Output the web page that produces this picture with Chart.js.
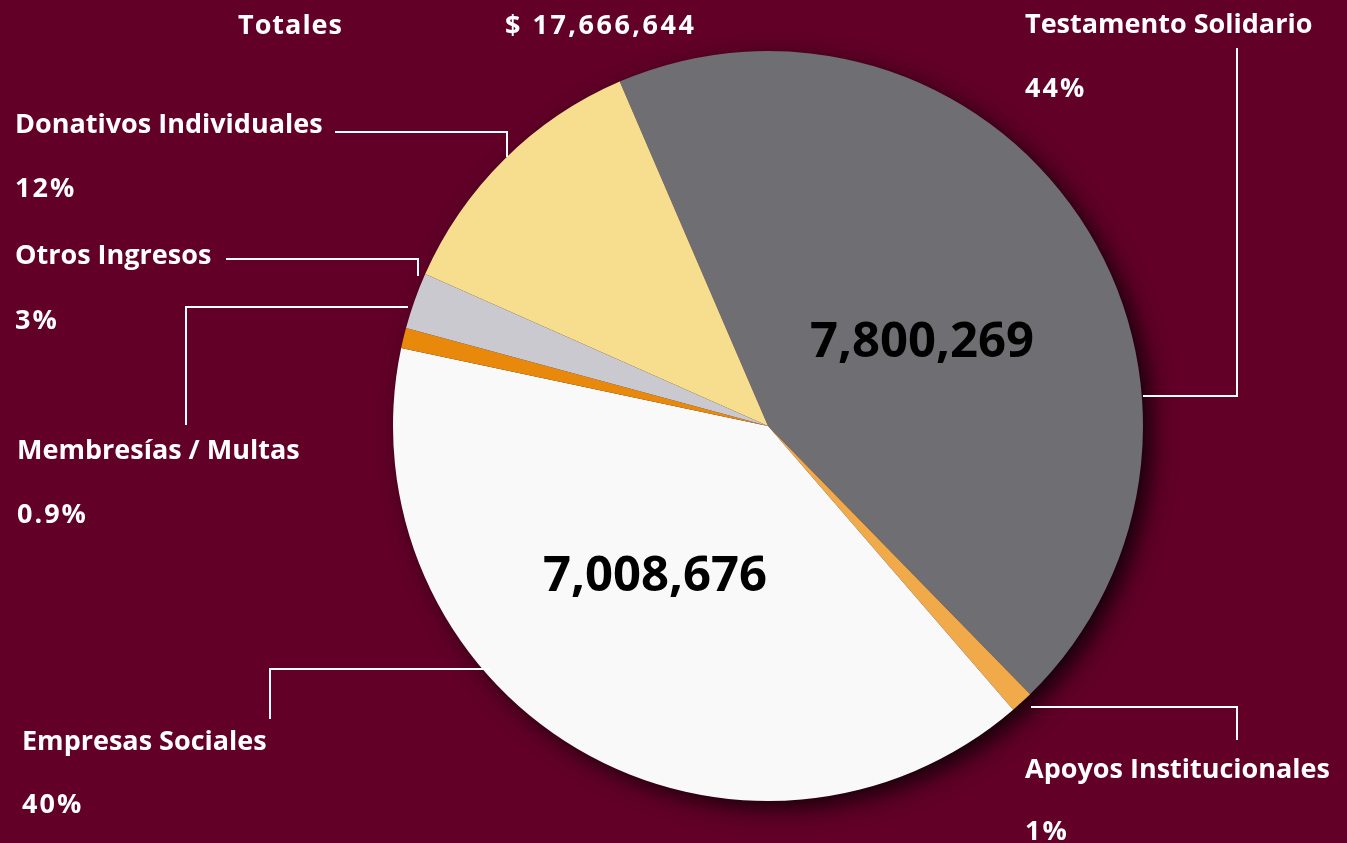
<!DOCTYPE html>
<html>
<head>
<meta charset="utf-8">
<script src="https://cdn.jsdelivr.net/npm/chart.js@4/dist/chart.umd.min.js"></script>
<style>
  html, body { margin: 0; padding: 0; background: #620028; overflow: hidden; }
  #wrap { width: 1347px; height: 843px; position: relative; }
</style>
</head>
<body>
<div id="wrap"><canvas id="c" width="1347" height="843"></canvas></div>
<script>
// ---- Data ----
const categories = ["Testamento Solidario", "Apoyos Institucionales", "Empresas Sociales", "Membresías / Multas", "Otros Ingresos", "Donativos Individuales"];
const amounts = [7800269, 172699, 7008676, 155000, 430000, 2100000];
const percentLabels = ["44%", "1%", "40%", "0.9%", "3%", "12%"];
const totalLabel = "$ 17,666,644";
const bigValueLabels = ["7,800,269", "", "7,008,676", "", "", ""];
const sliceColors = ["#6f6e73", "#f0aa4a", "#f9f9f9", "#e8890c", "#c9c9cf", "#f7de8e"];

// ---- Annotation layout (text + leader lines) ----
const labelLayout = [
  { name: [1025, 33], pct: [1025, 97],  line: [[1143, 396], [1237, 396], [1237, 48]] },
  { name: [1025, 778], pct: [1025, 840], line: [[1031, 707], [1237, 707], [1237, 740]] },
  { name: [22, 750],  pct: [22, 813],   line: [[490, 669], [270, 669], [270, 719]] },
  { name: [17, 459],  pct: [17, 523],   line: [[408, 307], [186, 307], [186, 425]] },
  { name: [15, 264],  pct: [15, 329],   line: [[226, 259], [418, 259], [418, 276]] },
  { name: [15, 133],  pct: [15, 197],   line: [[335, 132], [507, 132], [507, 157]] }
];
const bigValuePos = [[922, 357], null, [655, 591], null, null, null];

const FONT = "'Open Sans', Lato, sans-serif";

const shadowPlugin = {
  id: 'shadow',
  beforeDatasetsDraw(chart) {
    const arc = chart.getDatasetMeta(0).data[0];
    if (!arc) return;
    const ctx = chart.ctx;
    ctx.save();
    ctx.shadowColor = 'rgba(12,0,4,0.95)';
    ctx.shadowBlur = 24;
    ctx.shadowOffsetX = 10;
    ctx.shadowOffsetY = 8;
    ctx.fillStyle = '#2a0010';
    ctx.beginPath();
    ctx.arc(arc.x, arc.y, arc.outerRadius - 2, 0, Math.PI * 2);
    ctx.fill();
    ctx.restore();
  }
};

function spaced(ctx, text, x, y, spacing) {
  ctx.letterSpacing = spacing + 'px';
  ctx.fillText(text, x, y);
  ctx.letterSpacing = '0px';
}

const labelPlugin = {
  id: 'labels',
  afterDatasetsDraw(chart) {
    const ctx = chart.ctx;
    ctx.save();
    ctx.strokeStyle = '#ffffff';
    ctx.lineWidth = 2;
    labelLayout.forEach(l => {
      ctx.beginPath();
      l.line.forEach((p, i) => i ? ctx.lineTo(p[0], p[1]) : ctx.moveTo(p[0], p[1]));
      ctx.stroke();
    });
    ctx.fillStyle = '#ffffff';
    ctx.textAlign = 'left';
    ctx.textBaseline = 'alphabetic';
    ctx.font = "bold 27px " + FONT;
    categories.forEach((c, i) => {
      const l = labelLayout[i];
      spaced(ctx, c, l.name[0], l.name[1], 0);
      spaced(ctx, percentLabels[i], l.pct[0], l.pct[1], 2);
    });
    spaced(ctx, "Totales", 238, 34, 1);
    spaced(ctx, totalLabel, 505, 34, 2.5);
    ctx.fillStyle = '#000000';
    ctx.textAlign = 'center';
    ctx.font = "bold 49px " + FONT;
    bigValueLabels.forEach((t, i) => {
      if (t && bigValuePos[i]) ctx.fillText(t, bigValuePos[i][0], bigValuePos[i][1]);
    });
    ctx.restore();
  }
};

new Chart(document.getElementById('c'), {
  type: 'pie',
  data: {
    labels: categories,
    datasets: [{
      data: amounts,
      backgroundColor: sliceColors,
      borderWidth: 0,
      hoverOffset: 0,
      offset: 0
    }]
  },
  options: {
    responsive: false,
    animation: false,
    events: [],
    rotation: -23.3,
    layout: { padding: { left: 393, right: 204, top: 51, bottom: 42 } },
    plugins: { legend: { display: false }, tooltip: { enabled: false } }
  },
  plugins: [shadowPlugin, labelPlugin]
});
</script>
</body>
</html>
